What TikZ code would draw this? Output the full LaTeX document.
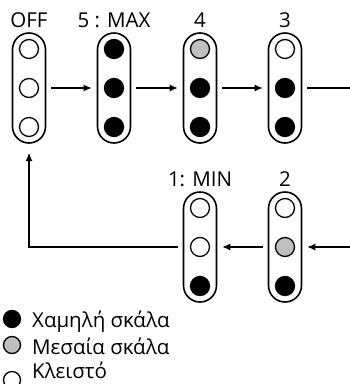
\documentclass[tikz,border=0pt]{standalone}
\usepackage{fontspec}
\setmainfont{Open Sans}
\usetikzlibrary{calc, arrows.meta}
\definecolor{midgray}{gray}{0.75}
\tikzset{ knob/.style = { rectangle
                        , draw
                        , line width      = 1.6pt
                        , rounded corners = 16.5pt
                        , minimum width   = 33pt
                        , minimum height  = 110pt
                        , inner sep       = 0pt
                        },
          lamp/.style = { circle
                        , draw
                        , line width   = 1.3pt
                        , inner sep    = 0pt
                        , minimum size = 19pt
                        },
          dfull/.style = { lamp, fill = black },
          dhalf/.style = { lamp, fill = midgray },
          dopen/.style = { lamp, fill = white },
          tag/.style   = { font = \fontsize{20.5}{22}\selectfont, inner sep = 0pt },
          arr/.style   = { line width = 1.1pt
                         , -{Latex[length=8pt, width=7pt]}
                         , shorten <= 5pt
                         , shorten >= 5pt
                         }
        }
\begin{document}
\begin{tikzpicture}[x=1pt, y=-1pt]
    \useasboundingbox (0,0) rectangle (350,384);
    \foreach \n/\x/\y/\t in {off/29/88/OFF, s5/114/88/{5 : MAX}, s4/200/88/4,
                             s3/285/88/3, s1/200/247/{1: MIN}, s2/285/247/2} {
      \node[knob] (\n) at (\x,\y) {};
      \node[tag] (\n t) at (\x,\y-68) {\t};
    }
    \foreach \n/\a/\b/\c in {off/dopen/dopen/dopen, s5/dfull/dfull/dfull,
                             s4/dhalf/dfull/dfull, s3/dopen/dfull/dfull,
                             s1/dopen/dopen/dfull, s2/dopen/dhalf/dfull} {
      \node[\a] (\n a) at ($(\n) + (0,-39)$) {};
      \node[\b] (\n b) at (\n) {};
      \node[\c] (\n c) at ($(\n) + (0, 39)$) {};
    }
    \coordinate (e1) at (350,88);
    \coordinate (e2) at (350,247);
    \coordinate (back) at (29,153);
    \draw[arr] (off) -- (s5);
    \draw[arr] (s5) -- (s4);
    \draw[arr] (s4) -- (s3);
    \draw[line width=1.1pt, shorten <=5pt] (s3) -- (e1);
    \draw[arr, shorten <=0pt] (e2) -- (s2);
    \draw[arr] (s2) -- (s1);
    \draw[arr, shorten >=0pt] (s1.west) -| (back);
    % legend
    \foreach \k/\s/\y in {k1/dfull/319, k2/dhalf/345, k3/dopen/380} {
      \node[\s, minimum size=17pt] (\k) at (12,\y) {};
    }
    \node[tag, anchor=west] (k1t) at (32,322) {Χαμηλή σκάλα};
    \node[tag, anchor=west] (k2t) at (32,346) {Μεσαία σκάλα};
    \node[tag, anchor=west] (k3t) at (32,370) {Κλειστό};
\end{tikzpicture}
\end{document}
